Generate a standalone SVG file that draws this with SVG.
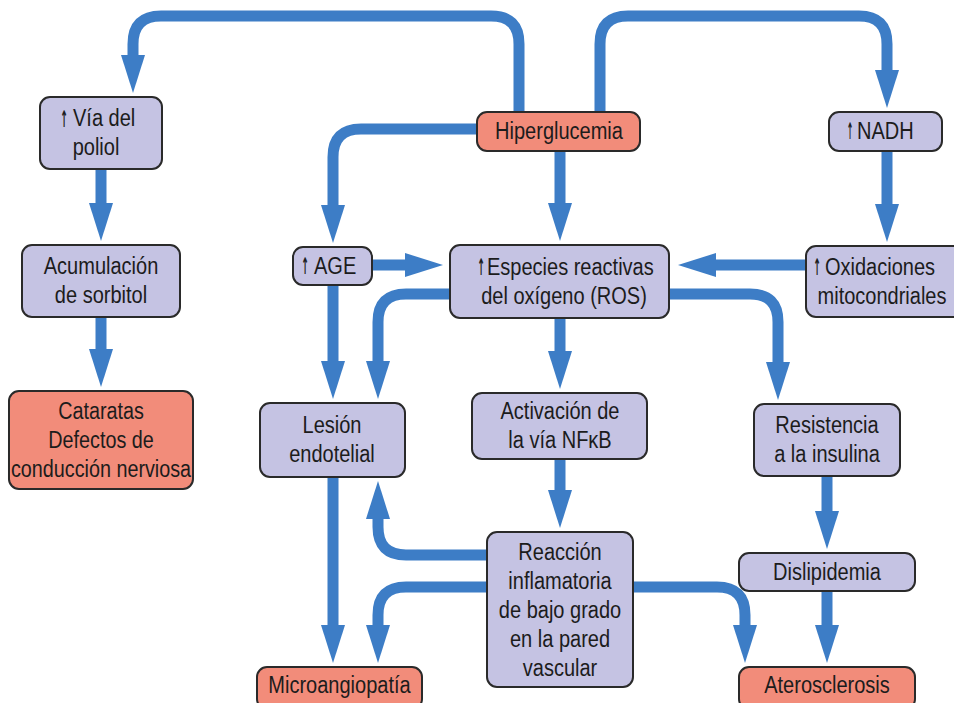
<svg xmlns="http://www.w3.org/2000/svg" width="954" height="703" viewBox="0 0 954 703">
  <style>
    .box { stroke: #2a2a2a; stroke-width: 2; }
    .lav { fill: #c5c3e3; }
    .sal { fill: #f28c7a; }
    .t { font-family: "Liberation Sans", Arial, sans-serif; font-size: 23px; fill: #1c1c1c; text-anchor: middle; }
    .s { text-anchor: start; }
    .ar { font-family: "DejaVu Sans", sans-serif; font-weight: bold; font-size: 23px; fill: #1c1c1c; text-anchor: middle; opacity: 0.99; }
    .c { fill: none; stroke: #3d7dc6; stroke-width: 11; }
  </style>
  <defs>
    <marker id="head" markerUnits="userSpaceOnUse" markerWidth="40" markerHeight="28" viewBox="0 -14 40 28" refX="0" refY="0" orient="auto">
      <path d="M0,-12 L38,0 L0,12 Z" fill="#3d7dc6"/>
    </marker>
  </defs>
  <rect width="954" height="703" fill="#ffffff"/>

  <!-- connectors -->
  <g id="connectors">
    <path class="c" marker-end="url(#head)" d="M519,112 V44 Q519,16 491,16 H161 Q133,16 133,44 V55"/>
    <path class="c" marker-end="url(#head)" d="M600,112 V44 Q600,16 628,16 H859 Q887,16 887,44 V70"/>
    <path class="c" marker-end="url(#head)" d="M477,129 H361 Q333,129 333,157 V205"/>
    <path class="c" marker-end="url(#head)" d="M560,151 V203"/>
    <path class="c" marker-end="url(#head)" d="M887,151 V204"/>
    <path class="c" marker-end="url(#head)" d="M806,265 H716"/>
    <path class="c" marker-end="url(#head)" d="M372,265 H405"/>
    <path class="c" marker-end="url(#head)" d="M333,285 V361"/>
    <path class="c" marker-end="url(#head)" d="M450,294 H406 Q378,294 378,322 V361"/>
    <path class="c" marker-end="url(#head)" d="M560,318 V351"/>
    <path class="c" marker-end="url(#head)" d="M669,294 H750 Q778,294 778,322 V362"/>
    <path class="c" marker-end="url(#head)" d="M560,459 V490"/>
    <path class="c" marker-end="url(#head)" d="M487,555 H406 Q378,555 378,527 V519"/>
    <path class="c" marker-end="url(#head)" d="M487,587 H406 Q378,587 378,615 V625"/>
    <path class="c" marker-end="url(#head)" d="M333,477 V625"/>
    <path class="c" marker-end="url(#head)" d="M633,587 H717 Q745,587 745,615 V625"/>
    <path class="c" marker-end="url(#head)" d="M827,476 V511"/>
    <path class="c" marker-end="url(#head)" d="M827,591 V625"/>
    <path class="c" marker-end="url(#head)" d="M101,169 V203"/>
    <path class="c" marker-end="url(#head)" d="M101,317 V349"/>
  </g>

  <!-- nodes -->
  <g id="hiperglucemia">
    <rect class="box sal" x="477" y="112" width="163" height="39" rx="10"/>
    <text class="t" transform="translate(559,0) scale(0.87,1)"><tspan x="0" y="139.5">Hiperglucemia</tspan></text>
  </g>
  <g id="via-poliol">
    <rect class="box lav" x="40" y="97" width="122" height="72" rx="10"/>
    <text class="ar" transform="translate(64,126.5) scale(0.4,1)">↑</text>
    <text class="t s" transform="translate(73,0) scale(0.87,1)"><tspan x="0" y="126.5">Vía del</tspan></text>
    <text class="t" transform="translate(96,0) scale(0.87,1)"><tspan x="0" y="155.5">poliol</tspan></text>
  </g>
  <g id="nadh">
    <rect class="box lav" x="829" y="112" width="113" height="39" rx="10"/>
    <text class="ar" transform="translate(850,139) scale(0.34,1)">↑</text>
    <text class="t s" transform="translate(857,0) scale(0.87,1)"><tspan x="0" y="139.5">NADH</tspan></text>
  </g>
  <g id="acumulacion">
    <rect class="box lav" x="22" y="245" width="158" height="72" rx="10"/>
    <text class="t" transform="translate(101,0) scale(0.87,1)"><tspan x="0" y="274.5">Acumulación</tspan><tspan x="0" y="303.5">de sorbitol</tspan></text>
  </g>
  <g id="age">
    <rect class="box lav" x="293" y="247" width="79" height="38" rx="10"/>
    <text class="ar" transform="translate(305,274) scale(0.4,1)">↑</text>
    <text class="t s" transform="translate(314,0) scale(0.87,1)"><tspan x="0" y="274">AGE</tspan></text>
  </g>
  <g id="ros">
    <rect class="box lav" x="450" y="245" width="219" height="73" rx="10"/>
    <text class="ar" transform="translate(481,275) scale(0.4,1)">↑</text>
    <text class="t s" transform="translate(487,0) scale(0.87,1)"><tspan x="0" y="275">Especies reactivas</tspan></text>
    <text class="t" transform="translate(564,0) scale(0.87,1)"><tspan x="0" y="304">del oxígeno (ROS)</tspan></text>
  </g>
  <g id="oxidaciones">
    <rect class="box lav" x="806" y="246" width="158" height="71" rx="10"/>
    <text class="ar" transform="translate(817,275) scale(0.4,1)">↑</text>
    <text class="t s" transform="translate(825,0) scale(0.87,1)"><tspan x="0" y="275">Oxidaciones</tspan></text>
    <text class="t" transform="translate(882,0) scale(0.87,1)"><tspan x="0" y="304">mitocondriales</tspan></text>
  </g>
  <g id="cataratas">
    <rect class="box sal" x="9" y="391" width="184" height="98" rx="10"/>
    <text class="t" transform="translate(101,0) scale(0.86,1)"><tspan x="0" y="419">Cataratas</tspan><tspan x="0" y="448">Defectos de</tspan><tspan x="0" y="477">conducción nerviosa</tspan></text>
  </g>
  <g id="lesion">
    <rect class="box lav" x="260" y="403" width="145" height="74" rx="10"/>
    <text class="t" transform="translate(332,0) scale(0.87,1)"><tspan x="0" y="433.5">Lesión</tspan><tspan x="0" y="462.5">endotelial</tspan></text>
  </g>
  <g id="nfkb">
    <rect class="box lav" x="472" y="393" width="175" height="66" rx="10"/>
    <text class="t" transform="translate(560,0) scale(0.87,1)"><tspan x="0" y="419.5">Activación de</tspan><tspan x="0" y="448.5">la vía NFκB</tspan></text>
  </g>
  <g id="resistencia">
    <rect class="box lav" x="754" y="404" width="146" height="72" rx="10"/>
    <text class="t" transform="translate(827,0) scale(0.87,1)"><tspan x="0" y="433.5">Resistencia</tspan><tspan x="0" y="462.5">a la insulina</tspan></text>
  </g>
  <g id="reaccion">
    <rect class="box lav" x="487" y="532" width="146" height="155" rx="10"/>
    <text class="t" transform="translate(560,0) scale(0.87,1)"><tspan x="0" y="560">Reacción</tspan><tspan x="0" y="589">inflamatoria</tspan><tspan x="0" y="618">de bajo grado</tspan><tspan x="0" y="647">en la pared</tspan><tspan x="0" y="676">vascular</tspan></text>
  </g>
  <g id="dislipidemia">
    <rect class="box lav" x="739" y="553" width="176" height="38" rx="10"/>
    <text class="t" transform="translate(827,0) scale(0.87,1)"><tspan x="0" y="580">Dislipidemia</tspan></text>
  </g>
  <g id="microangiopatia">
    <rect class="box sal" x="257" y="667" width="165" height="42" rx="10"/>
    <text class="t" transform="translate(339.5,0) scale(0.87,1)"><tspan x="0" y="693">Microangiopatía</tspan></text>
  </g>
  <g id="aterosclerosis">
    <rect class="box sal" x="739" y="667" width="176" height="42" rx="10"/>
    <text class="t" transform="translate(827,0) scale(0.87,1)"><tspan x="0" y="693">Aterosclerosis</tspan></text>
  </g>
</svg>
